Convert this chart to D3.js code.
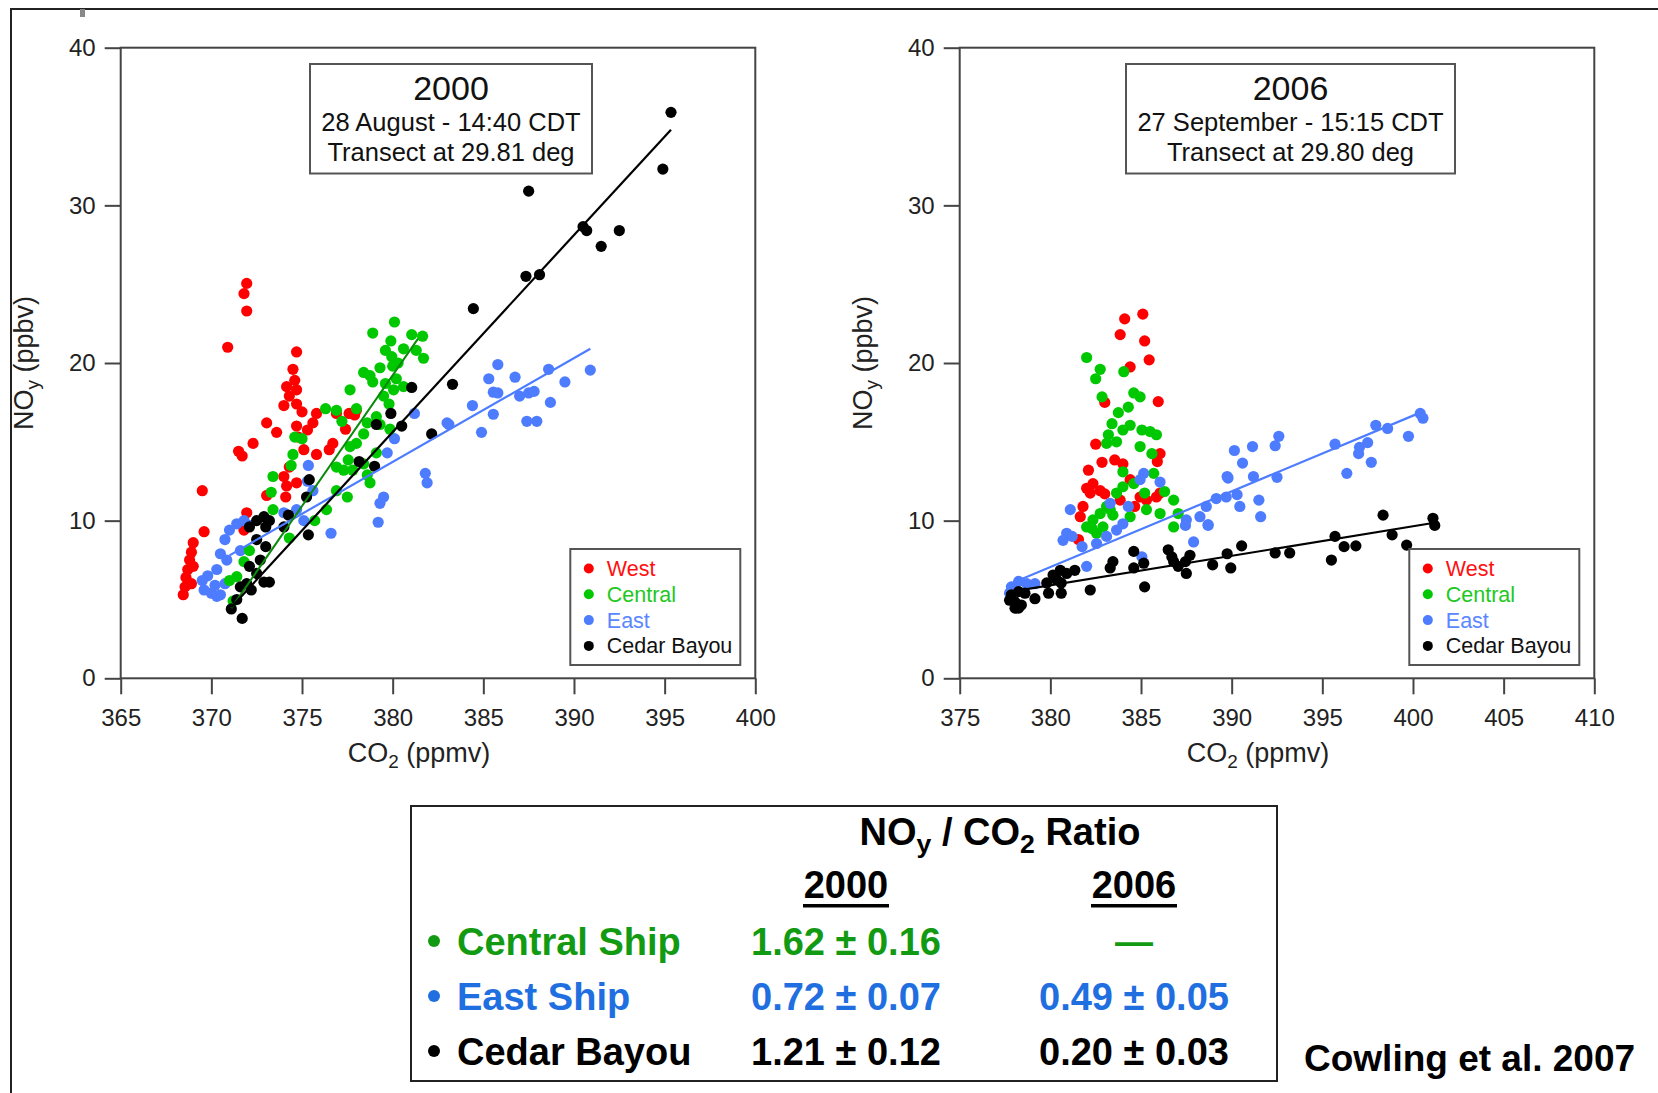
<!DOCTYPE html>
<html lang="en">
<head>
<meta charset="UTF-8">
<title>NOy vs CO2</title>
<script src="https://cdn.jsdelivr.net/npm/d3@7/dist/d3.min.js"></script>
<style>
  body { margin: 0; background: #fff; }
  svg { display: block; font-family: 'Liberation Sans', Arial, sans-serif; }
</style>
</head>
<body>
<svg width="1658" height="1093"></svg>
<script>
// ---- data (CO2 ppmv, NOy ppbv) ----
var west2000 = [[371.95,25.05],[371.8,24.4],[371.95,23.3],[370.9,21.0],[374.7,20.7],[374.5,19.6],[374.6,18.9],[374.15,18.5],[374.7,18.3],[374.3,17.9],[374.0,17.3],[374.7,17.4],[375.0,16.9],[373.05,16.2],[373.6,15.6],[372.3,14.9],[371.5,14.4],[371.7,14.1],[369.5,11.9],[369.6,9.3],[369.0,8.6],[368.9,8.0],[368.8,7.5],[368.7,6.9],[368.6,6.4],[368.55,5.8],[368.45,5.3],[368.9,6.0],[369.0,7.1],[374.7,16.0],[375.3,15.75],[375.8,16.8],[375.6,16.2],[374.8,15.3],[375.1,14.5],[375.8,14.2],[376.5,14.5],[376.7,14.9],[376.9,16.8],[377.6,16.8],[378.0,17.0],[374.3,13.4],[374.0,12.8],[374.15,12.2],[374.7,12.4],[373.05,11.6],[374.1,11.5],[371.95,10.5],[371.8,9.4],[377.9,16.7],[377.4,15.8]]
var central2000 = [[380.1,22.6],[378.9,21.9],[381.05,21.8],[381.65,21.7],[379.9,21.4],[380.6,20.9],[379.6,20.8],[381.3,20.8],[381.7,20.3],[379.95,20.4],[380.3,20.0],[379.3,19.7],[378.4,19.4],[378.75,19.2],[380.0,19.8],[380.2,19.0],[379.6,18.7],[378.9,18.8],[380.05,18.3],[380.6,18.5],[377.65,18.3],[376.3,17.1],[376.9,17.0],[377.2,16.3],[378.0,17.1],[379.5,17.9],[379.8,17.4],[379.1,16.6],[379.3,16.1],[378.6,16.2],[378.4,15.5],[379.85,15.8],[374.6,15.3],[375.0,15.2],[374.5,14.2],[374.4,13.5],[377.65,14.7],[378.0,14.9],[379.1,14.3],[377.55,13.85],[378.4,13.6],[377.3,13.2],[377.8,13.2],[378.6,12.9],[378.75,12.4],[373.4,12.8],[373.3,11.8],[377.5,11.5],[376.9,11.9],[376.35,10.7],[375.7,10.0],[374.3,8.9],[373.4,10.7],[371.4,6.45],[371.0,6.2],[371.2,4.9],[371.8,7.4],[372.1,8.1],[376.9,13.4]]
var east2000 = [[375.35,13.5],[381.2,16.8],[383.0,16.2],[380.1,15.2],[379.7,14.3],[381.8,13.0],[381.9,12.4],[379.5,11.5],[379.3,11.1],[379.2,9.9],[376.6,9.2],[375.3,12.5],[375.6,11.9],[374.7,10.7],[375.1,10.0],[374.0,10.5],[371.4,9.8],[371.0,9.4],[370.75,8.8],[370.5,7.9],[370.85,7.5],[371.6,8.1],[370.3,6.9],[369.8,6.5],[369.5,6.2],[369.6,5.6],[370.2,5.9],[370.5,5.3],[370.75,6.0],[370.0,5.4],[372.1,9.7],[371.8,10.0],[370.3,5.2],[385.8,19.9],[385.3,19.0],[386.75,19.1],[385.55,18.15],[385.8,18.1],[387.0,17.9],[387.5,18.1],[387.8,18.2],[388.6,19.6],[389.5,18.8],[390.9,19.55],[388.7,17.5],[384.4,17.3],[385.55,16.75],[383.1,16.1],[384.9,15.6],[387.4,16.3],[387.95,16.3]]
var cedar2000 = [[395.35,35.9],[394.9,32.3],[387.5,30.9],[390.5,28.65],[390.7,28.4],[392.5,28.4],[391.5,27.4],[387.35,25.5],[388.1,25.6],[384.45,23.45],[383.3,18.65],[381.05,18.45],[379.9,16.8],[379.1,16.1],[380.5,16.0],[382.15,15.5],[378.15,13.75],[379.0,13.45],[375.4,12.6],[375.25,11.5],[375.35,9.1],[374.25,10.35],[373.2,10.0],[372.9,10.25],[372.5,10.0],[372.1,9.6],[373.0,9.6],[372.5,8.8],[373.0,8.35],[372.7,7.5],[372.1,7.1],[372.5,6.65],[372.9,6.1],[373.2,6.1],[371.95,6.0],[371.6,5.8],[372.2,5.6],[371.4,5.0],[371.1,4.4],[371.7,3.8],[374.0,9.6]]

var west2006 = [[385.1,23.1],[384.1,22.8],[383.85,21.8],[385.2,21.4],[385.45,20.2],[384.4,19.75],[383.0,17.5],[385.95,17.55],[382.5,14.85],[383.55,13.85],[384.0,13.6],[382.85,13.7],[382.1,13.2],[386.05,14.25],[385.9,13.75],[382.0,12.05],[382.35,12.35],[382.75,11.9],[383.0,11.7],[382.2,11.75],[381.8,10.9],[381.65,10.25],[384.95,11.5],[384.65,10.9],[385.3,11.3],[385.85,11.5],[386.05,11.75],[384.4,12.6],[381.55,8.8],[383.85,11.3]]
var central2006 = [[382.0,20.35],[382.75,19.6],[382.5,19.0],[384.05,19.45],[382.85,17.85],[384.6,18.1],[384.95,17.85],[384.3,17.2],[383.75,16.85],[383.4,16.15],[384.4,16.05],[385.05,15.75],[385.5,15.65],[385.85,15.45],[383.2,15.45],[384.0,15.75],[383.65,15.0],[383.1,14.9],[384.95,14.7],[385.6,14.25],[384.0,13.1],[385.7,13.0],[384.6,12.35],[386.3,11.85],[386.8,11.3],[385.2,11.75],[383.65,11.75],[384.0,12.15],[383.1,10.9],[382.75,10.45],[383.45,10.35],[382.35,10.05],[382.0,9.6],[382.9,9.6],[383.3,10.7],[384.4,10.25],[385.3,10.7],[386.05,10.45],[386.8,9.6],[387.05,10.45],[382.55,9.2],[382.3,9.5]]
var east2006 = [[392.6,15.35],[392.4,14.75],[391.15,14.7],[390.15,14.45],[390.6,13.65],[392.5,12.75],[389.75,12.8],[391.2,12.8],[391.5,11.3],[390.3,11.65],[390.45,10.9],[391.6,10.25],[389.15,11.4],[389.7,11.5],[388.6,10.9],[388.25,10.25],[388.7,9.7],[387.9,8.65],[387.5,10.05],[387.45,9.7],[386.05,12.45],[385.15,13.0],[384.95,12.6],[384.3,10.9],[383.3,11.1],[381.1,10.7],[380.9,9.2],[381.2,9.0],[380.7,8.75],[381.75,8.35],[382.55,8.55],[383.1,9.0],[383.65,9.4],[384.0,9.8],[382.0,7.1],[385.05,7.7],[377.85,5.8],[378.25,6.15],[378.7,6.0],[379.15,6.0],[377.75,5.4],[400.4,16.8],[400.55,16.5],[399.75,15.35],[398.6,15.85],[397.95,16.05],[397.5,14.95],[397.05,14.65],[397.0,14.25],[397.7,13.7],[396.35,13.0],[395.7,14.85],[389.8,12.7],[388.7,9.75]]
var cedar2006 = [[398.35,10.35],[401.1,10.15],[401.2,9.7],[398.85,9.1],[399.65,8.45],[396.85,8.4],[396.2,8.35],[395.7,9.0],[395.5,7.5],[393.2,7.95],[392.4,7.95],[390.55,8.4],[389.75,7.9],[389.95,7.0],[388.95,7.2],[387.7,7.8],[387.45,7.4],[387.5,6.65],[386.5,8.15],[386.7,7.7],[387.05,7.1],[386.8,7.4],[385.15,7.3],[384.6,8.05],[384.6,7.0],[385.2,5.8],[383.45,7.4],[383.3,7.0],[382.2,5.6],[381.35,6.85],[380.9,6.65],[380.55,6.85],[380.15,6.55],[380.35,6.25],[380.6,6.05],[379.8,6.05],[379.9,5.4],[380.6,5.4],[379.15,5.05],[378.6,5.4],[378.25,5.5],[377.85,5.3],[378.05,4.85],[378.4,4.65],[378.05,4.45],[378.25,4.45],[377.75,4.95]]

// regression lines (end points)
var fitCentral2000 = [[371.1,4.45],[381.4,21.55]]
var fitEast2000 = [[371.0,7.8],[390.9,20.9]]
var fitCedar2000 = [[371.1,4.5],[395.35,34.8]]
var fitEast2006 = [[377.7,5.95],[400.5,16.9]]
var fitCedar2006 = [[377.9,5.5],[401.1,9.85]]

var xTicks2000 = [365, 370, 375, 380, 385, 390, 395, 400]
var xTicks2006 = [375, 380, 385, 390, 395, 400, 405, 410]
var yTicks = [0, 10, 20, 30, 40]
var title2000 = ['2000', '28 August - 14:40 CDT', 'Transect at 29.81 deg']
var title2006 = ['2006', '27 September - 15:15 CDT', 'Transect at 29.80 deg']
var legendNames = ['West', 'Central', 'East', 'Cedar Bayou']

var tableRows = ['Central Ship', 'East Ship', 'Cedar Bayou']
var ratio2000 = ['1.62 ± 0.16', '0.72 ± 0.07', '1.21 ± 0.12']
var ratio2006 = ['—', '0.49 ± 0.05', '0.20 ± 0.03']

// ---- styles ----
var FONT = "'Liberation Sans', Arial, sans-serif"
var dotColor = { West: '#ff0000', Central: '#00c800', East: '#4d7cff', 'Cedar Bayou': '#000000' }
var legendColor = { West: '#ff1010', Central: '#22c822', East: '#5a86ff', 'Cedar Bayou': '#111111' }
var tableColor = ['#139a13', '#1f6fe0', '#000000']

var svg = d3.select('svg')

// outer figure border
svg.append('path').attr('d', 'M11,1093V9H1658').attr('fill', 'none').attr('stroke', '#222').attr('stroke-width', 2)
svg.append('rect').attr('x', 80).attr('y', 9).attr('width', 5).attr('height', 8).attr('fill', '#888')

// text with subscripts; size = parent font size in px
function subText(sel, parts, size) {
  var shift = size * 0.22
  parts.forEach(function (p) {
    var t = sel.append('tspan').text(p[0])
    if (p[1]) t.attr('font-size', size * 0.7).attr('dy', shift)
    else if (p[2]) t.attr('dy', -shift)
  })
}

function panel(o) {
  var top = 47.7, bottom = 678.3
  var x = d3.scaleLinear().domain(o.xDomain).range([o.left, o.left + 634.6])
  var y = d3.scaleLinear().domain([0, 40]).range([bottom, top])
  var g = svg.append('g')

  // axes
  var ax = g.append('g').attr('transform', 'translate(0,' + bottom + ')')
    .call(d3.axisBottom(x).tickValues(o.xTicks).tickSize(16).tickPadding(15).tickSizeOuter(0))
  var ay = g.append('g').attr('transform', 'translate(' + o.left + ',0)')
    .call(d3.axisLeft(y).tickValues(yTicks).tickSize(16).tickPadding(9).tickSizeOuter(0))
  ;[ax, ay].forEach(function (a) {
    a.attr('font-size', 24).attr('font-family', FONT)
    a.select('.domain').remove()
    a.selectAll('line').attr('stroke', '#444').attr('stroke-width', 2)
    a.selectAll('text').attr('fill', '#222')
  })

  g.append('rect').attr('x', x.range()[0]).attr('y', top)
    .attr('width', x.range()[1] - x.range()[0]).attr('height', bottom - top)
    .attr('fill', 'none').attr('stroke', '#444').attr('stroke-width', 2)

  // points
  o.series.forEach(function (s) {
    g.append('g').attr('fill', dotColor[s.name])
      .selectAll('circle').data(s.data).join('circle')
      .attr('cx', function (d) { return x(d[0]) })
      .attr('cy', function (d) { return y(d[1]) })
      .attr('r', 5.6)
  })

  // fit lines
  var line = d3.line().x(function (d) { return x(d[0]) }).y(function (d) { return y(d[1]) })
  o.fits.forEach(function (f) {
    g.append('path').attr('d', line(f.data)).attr('fill', 'none')
      .attr('stroke', f.color).attr('stroke-width', f.width)
  })

  // title box
  var bx = o.titleBox
  g.append('rect').attr('x', bx[0]).attr('y', 64).attr('width', bx[1] - bx[0]).attr('height', 109.5)
    .attr('fill', '#fff').attr('stroke', '#555').attr('stroke-width', 2)
  g.selectAll('.ttl').data(o.title).join('text').attr('class', 'ttl')
    .attr('x', (bx[0] + bx[1]) / 2)
    .attr('y', function (d, i) { return [100, 131, 160.5][i] })
    .attr('text-anchor', 'middle').attr('fill', '#111')
    .attr('font-size', function (d, i) { return i === 0 ? 34 : 25.5 })
    .text(function (d) { return d })

  // legend
  var lx = o.left + 634.6 - 185, ly = 549
  g.append('rect').attr('x', lx).attr('y', ly).attr('width', 170).attr('height', 116)
    .attr('fill', '#fff').attr('stroke', '#555').attr('stroke-width', 2)
  var items = g.selectAll('.leg').data(legendNames).join('g').attr('class', 'leg')
    .attr('transform', function (d, i) { return 'translate(' + (lx + 18.5) + ',' + (ly + 19.5 + i * 25.8) + ')' })
  items.append('circle').attr('r', 5).attr('fill', function (d) { return dotColor[d] })
  items.append('text').attr('x', 18).attr('y', 7.5).attr('font-size', 21.5)
    .attr('fill', function (d) { return legendColor[d] }).text(function (d) { return d })

  // axis titles
  var xt = g.append('text').attr('x', (x.range()[0] + x.range()[1]) / 2 - 19).attr('y', 762)
    .attr('text-anchor', 'middle').attr('font-size', 27).attr('fill', '#222')
  subText(xt, [['CO'], ['2', true], [' (ppmv)', false, true]], 27)
  var yt = g.append('text')
    .attr('transform', 'translate(' + (o.left - 88) + ',' + ((top + bottom) / 2) + ') rotate(-90)')
    .attr('text-anchor', 'middle').attr('font-size', 27).attr('fill', '#222')
  subText(yt, [['NO'], ['y', true], [' (ppbv)', false, true]], 27)
}

panel({
  left: 120.7, xDomain: [365, 400], xTicks: xTicks2000, title: title2000, titleBox: [310, 592],
  series: [
    { name: 'West', data: west2000 }, { name: 'East', data: east2000 },
    { name: 'Central', data: central2000 }, { name: 'Cedar Bayou', data: cedar2000 }
  ],
  fits: [
    { data: fitEast2000, color: '#4d7cff', width: 2.2 },
    { data: fitCentral2000, color: '#0a8a0a', width: 2 },
    { data: fitCedar2000, color: '#000', width: 2.2 }
  ]
})

panel({
  left: 959.7, xDomain: [375, 410], xTicks: xTicks2006, title: title2006, titleBox: [1126, 1455],
  series: [
    { name: 'West', data: west2006 }, { name: 'Central', data: central2006 },
    { name: 'East', data: east2006 }, { name: 'Cedar Bayou', data: cedar2006 }
  ],
  fits: [
    { data: fitEast2006, color: '#4d7cff', width: 2.2 },
    { data: fitCedar2006, color: '#000', width: 2.2 }
  ]
})

// ---- ratio table ----
var tb = svg.append('g').attr('font-weight', 'bold').attr('font-size', 38)
tb.append('rect').attr('x', 411).attr('y', 806).attr('width', 866).attr('height', 275)
  .attr('fill', 'none').attr('stroke', '#222').attr('stroke-width', 2)

var head = tb.append('text').attr('x', 1000).attr('y', 845).attr('text-anchor', 'middle').attr('fill', '#000')
subText(head, [['NO'], ['y', true], [' / CO', false, true], ['2', true], [' Ratio', false, true]], 38)

var colX = [846, 1134]
tb.selectAll('.yr').data(['2000', '2006']).join('text').attr('class', 'yr')
  .attr('x', function (d, i) { return colX[i] }).attr('y', 898)
  .attr('text-anchor', 'middle').attr('fill', '#000').text(function (d) { return d })
tb.selectAll('.ul').data(['2000', '2006']).join('rect').attr('class', 'ul')
  .attr('x', function (d, i) { return colX[i] - 43 }).attr('y', 904)
  .attr('width', 86).attr('height', 3.5).attr('fill', '#000')

var rows = tb.selectAll('.row').data(tableRows).join('g').attr('class', 'row')
  .attr('transform', function (d, i) { return 'translate(0,' + (955 + i * 55) + ')' })
  .attr('fill', function (d, i) { return tableColor[i] })
rows.append('circle').attr('cx', 434).attr('cy', -14).attr('r', 6)
rows.append('text').attr('x', 457).text(function (d) { return d })
rows.append('text').attr('x', colX[0]).attr('text-anchor', 'middle').text(function (d, i) { return ratio2000[i] })
rows.append('text').attr('x', colX[1]).attr('text-anchor', 'middle').text(function (d, i) { return ratio2006[i] })

svg.append('text').attr('x', 1304).attr('y', 1071).attr('font-size', 37).attr('font-weight', 'bold')
  .attr('fill', '#000').text('Cowling et al. 2007')
</script>
</body>
</html>
